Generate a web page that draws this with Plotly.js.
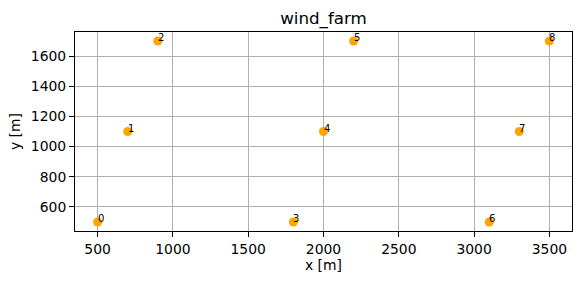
<!DOCTYPE html>
<html>
<head>
<meta charset="utf-8">
<script src="https://cdn.plot.ly/plotly-3.0.1.min.js"></script>
<style>html,body{margin:0;padding:0;background:#fff;}#chart{width:580px;height:284px;}</style>
</head>
<body>
<div id="chart"></div>
<script>
const turbineIds = [0, 1, 2, 3, 4, 5, 6, 7, 8];
const xPositions = [500, 700, 900, 1800, 2000, 2200, 3100, 3300, 3500];
const yPositions = [500, 1100, 1700, 500, 1100, 1700, 500, 1100, 1700];
const xTicks = [500, 1000, 1500, 2000, 2500, 3000, 3500];
const yTicks = [600, 800, 1000, 1200, 1400, 1600];

const FONT = 'DejaVu Sans, sans-serif';

const trace = {
  x: xPositions,
  y: yPositions,
  mode: 'markers',
  type: 'scatter',
  marker: {color: '#FFA500', size: 9},
  hoverinfo: 'skip',
  cliponaxis: false
};

const annotations = turbineIds.map((id, i) => ({
  x: xPositions[i],
  y: yPositions[i],
  xref: 'x', yref: 'y',
  text: String(id),
  showarrow: false,
  xanchor: 'left',
  yanchor: 'bottom',
  xshift: -1,
  yshift: -3,
  borderpad: 0,
  font: {family: FONT, size: 10, color: '#000'}
}));

const axisCommon = {
  showline: true,
  mirror: true,
  linecolor: '#000',
  linewidth: 1,
  ticks: 'outside',
  ticklen: 5,
  tickwidth: 1,
  tickcolor: '#000',
  showgrid: true,
  gridcolor: '#b0b0b0',
  gridwidth: 1,
  zeroline: false,
  tickfont: {family: FONT, size: 13.9, color: '#000'}
};

const layout = {
  width: 580,
  height: 284,
  margin: {l: 75, r: 8.3, t: 32, b: 53.3, pad: 0},
  paper_bgcolor: '#fff',
  plot_bgcolor: '#fff',
  showlegend: false,
  title: {
    text: 'wind_farm',
    font: {family: FONT, size: 16.7, color: '#000'},
    x: 0.5, xref: 'paper', xanchor: 'center',
    y: 0.917, yref: 'container', yanchor: 'bottom'
  },
  xaxis: Object.assign({}, axisCommon, {
    range: [350, 3650],
    tickvals: xTicks,
    ticktext: xTicks.map(String),
    title: {text: 'x [m]', font: {family: FONT, size: 13.9, color: '#000'}, standoff: 4}
  }),
  yaxis: Object.assign({}, axisCommon, {
    range: [440, 1760],
    tickvals: yTicks,
    ticktext: yTicks.map(String),
    title: {text: 'y [m]', font: {family: FONT, size: 13.9, color: '#000'}, standoff: 6}
  }),
  annotations: annotations
};

Plotly.newPlot('chart', [trace], layout, {displayModeBar: false, staticPlot: true});
</script>
</body>
</html>
